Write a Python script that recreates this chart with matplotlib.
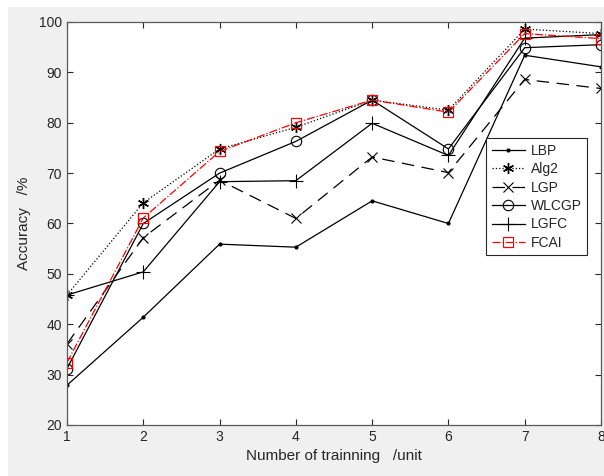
import matplotlib
matplotlib.use("Agg")
import matplotlib.pyplot as plt
from matplotlib.patches import Rectangle

INK = "#262626"
plt.rcParams.update({"font.family": ["Liberation Sans", "DejaVu Sans"], "font.size": 10,
                     "text.color": INK, "axes.edgecolor": "#5a5a5a", "xtick.color": INK,
                     "ytick.color": INK, "axes.labelcolor": INK})

n_train = [1, 2, 3, 4, 5, 6, 7, 8]
lbp = [27.9, 41.4, 55.9, 55.3, 64.5, 60.0, 93.4, 91.1]
alg2 = [45.8, 64.1, 74.8, 79.1, 84.5, 82.5, 98.6, 97.7]
lgp = [36.1, 57.2, 68.6, 61.0, 73.2, 70.1, 88.6, 86.8]
wlcgp = [31.2, 60.0, 70.0, 76.3, 84.5, 74.8, 94.9, 95.5]
lgfc = [45.8, 50.4, 68.3, 68.5, 79.9, 73.5, 96.8, 97.5]
fcai = [32.4, 61.1, 74.3, 80.0, 84.5, 82.1, 97.7, 96.7]

fig = plt.figure(figsize=(6.04, 4.76), dpi=100, facecolor="white")
fig.patches.append(Rectangle((8 / 604, 0), 1, 1 - 7 / 476, transform=fig.transFigure,
                             facecolor="#f0f0f0", edgecolor="none", zorder=-10))
ax = fig.add_axes([67 / 604, 1 - 425 / 476, 534 / 604, 403 / 476])
ax.set_facecolor("white")

lw = 0.9
ax.plot(n_train, lbp, color="k", lw=lw, ls="-", marker=".", ms=4, label="LBP")
ax.plot(n_train, alg2, color="k", lw=lw, ls=":", marker=(6, 2, 0), ms=8, mew=1.0, label="Alg2")
ax.plot(n_train, lgp, color="k", lw=lw, ls=(0, (10, 6)), marker="x", ms=7, mew=0.8, label="LGP")
ax.plot(n_train, wlcgp, color="k", lw=lw, ls="-", marker="o", ms=7.5, mfc="none", mew=0.8,
        label="WLCGP")
ax.plot(n_train, lgfc, color="k", lw=lw, ls="-", marker="+", ms=10, mew=0.8, label="LGFC")
ax.plot(n_train, fcai, color="red", lw=lw, ls="-.", marker="s", ms=6.5, mfc="none", mew=0.9,
        label="FCAI")

ax.set_xlim(1, 8)
ax.set_ylim(20, 100)
ax.set_xticks(n_train)
ax.set_yticks(range(20, 101, 10))
ax.tick_params(direction="in", top=True, right=True, length=4, width=0.8, labelsize=10)
for s in ax.spines.values():
    s.set_linewidth(0.9)
ax.set_xlabel("Number of trainning   /unit", fontsize=11, labelpad=4)
ax.set_ylabel("Accuracy   /%", fontsize=11, labelpad=6)

leg = ax.legend(loc="upper right", bbox_to_anchor=(0.974, 0.712), fancybox=False,
                edgecolor=INK, framealpha=1, fontsize=10, handlelength=2.4,
                labelspacing=0.32, borderpad=0.4, handletextpad=0.4, borderaxespad=0)
leg.get_frame().set_linewidth(0.8)

fig.savefig("out.png", dpi=100, facecolor=fig.get_facecolor())
